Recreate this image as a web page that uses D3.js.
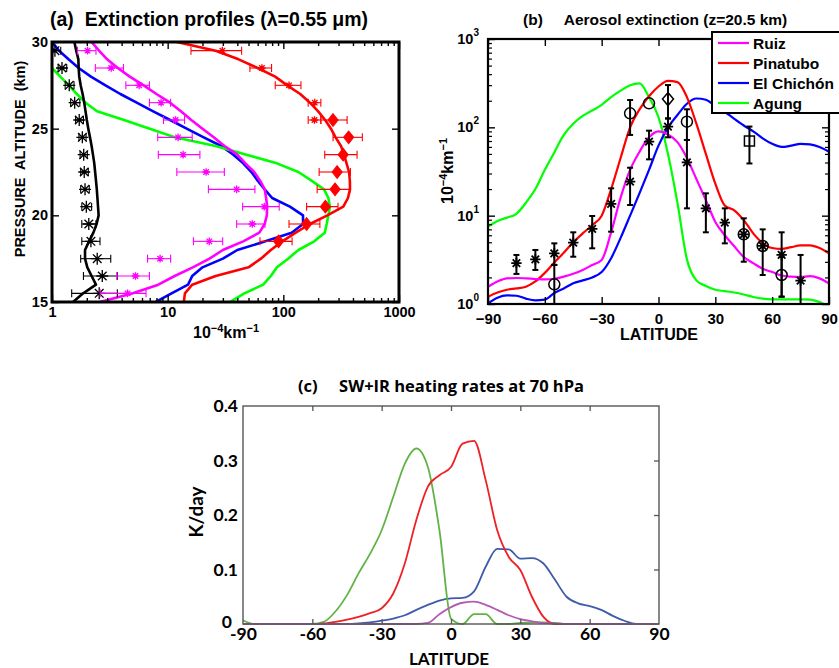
<!DOCTYPE html>
<html>
<head>
<meta charset="utf-8">
<script src="https://cdn.jsdelivr.net/npm/d3@7"></script>
<style>
  body { margin: 0; background: #fff; }
  svg { display: block; }
  text { white-space: pre; }
</style>
</head>
<body>
<svg id="fig" width="839" height="668"></svg>
<script>
// ---------------- Panel (a): extinction profiles, 15-30 km ----------------
const profileAlt = [15,15.5,16,16.5,17,17.5,18,18.5,19,19.5,20,20.5,21,21.5,22,22.5,23,23.5,24,24.5,25,25.5,26,26.5,27,27.5,28,28.5,29,29.5,30];
const profRuiz     = [2.6,5.0,8.3,11.5,16.5,23,30,45,62,69,72,72.5,71,69,63,56,47,40,31,25,20,16,13,10.5,8.0,6.2,4.7,3.7,3.0,2.55,2.2];
const profPinatubo = [13.8,14.1,16.3,26,50,64,78,98,128,170,240,330,362,377,376,370,352,335,315,283,258,230,200,170,140,108,85,60,41,26,12];
const profChichon  = [7.9,10.8,15,16.3,20,30,40,70,118,148,148,114,80,69,60,53,45,37,29,20.5,14.6,10.5,7.5,5.4,3.9,2.9,2.17,1.7,1.39,1.15,1.0];
const profAgung    = [34.5,46,67,78,88,110,135,185,228,237,245,253,245,225,175,135,88,48,26,11.5,7.0,4.2,2.45,1.95,1.64,1.4,1.18,1.0,0.8,null,null];
const profBlack    = [1.52,1.86,2.40,2.20,2.02,1.93,1.93,2.09,2.28,2.43,2.53,2.50,2.47,2.44,2.40,2.36,2.32,2.26,2.20,2.13,2.06,2.00,1.95,1.90,1.84,1.77,1.72,1.70,1.69,1.62,1.56];

// observed profiles with horizontal error bars
const obsAlt   = [15.5,16.5,17.5,18.5,19.5,20.5,21.5,22.5,23.5,24.5,25.5,26.5,27.5,28.5,29.5];
const blackObs = [2.56,2.72,2.46,2.17,2.08,1.98,1.93,1.90,1.88,1.83,1.72,1.57,1.41,1.22,1.06];
const blackLo  = [1.48,1.87,1.77,1.81,1.81,1.81,1.77,1.77,1.75,1.71,1.60,1.45,1.30,1.13,1.01];
const blackHi  = [3.67,3.67,3.22,2.60,2.40,2.20,2.10,2.06,2.02,1.97,1.87,1.74,1.55,1.34,1.19];
const ruizObs  = [4.5,5.27,8.6,22.9,53.9,68.4,39.5,21.5,13.6,12.3,11.7,8.77,5.67,3.25,2.03];
const ruizLo   = [2.61,3.64,6.7,16.7,39.5,44.5,22.5,12.0,8.3,8.2,9.2,6.96,4.35,2.37,1.66];
const ruizHi   = [6.5,6.96,10.6,29.9,69.3,92.1,56.8,30.9,19.0,16.3,14.0,10.6,6.96,4.15,2.40];
const pinStarAlt = [25.5,26.5,27.5,28.5,29.5];
const pinStar    = [186,187,112,65.3,29.7];
const pinStarLo  = [164,164,85.1,51.4,15.9];
const pinStarHi  = [211,211,142,79.1,43.6];
const pinDiaAlt  = [18.5,19.5,20.5,21.5,22.5,23.5,24.5,25.5];
const pinDia     = [91,159,231,280,292,329,367,269];
const pinDiaLo   = [62.8,112,159,196,204,228,269,211];
const pinDiaHi   = [119,207,297,375,380,434,482,356];

// ---------------- Panel (b): extinction at 20.5 km vs latitude ----------------
const latitudes = [-90,-85,-80,-75,-70,-65,-60,-55,-50,-45,-40,-35,-30,-25,-20,-15,-10,-5,0,5,10,15,20,25,30,35,40,45,50,55,60,65,70,75,80,85,90];
const extRuiz     = [1.57,1.80,1.95,1.97,1.95,1.92,1.90,1.93,2.04,2.2,2.43,2.76,3.15,6.5,16,33,53,77,90,83,68,45,26,15,8.5,6.0,4.5,3.4,2.9,2.5,2.3,2.1,2.04,2.02,2.07,1.95,1.71];
const extPinatubo = [1.21,1.35,1.45,1.50,1.57,1.80,2.25,2.95,3.8,5.0,6.3,7.8,10,20,45,100,160,225,290,335,325,220,110,50,23,13,11.5,8.9,6.3,4.9,4.3,4.2,4.4,4.6,4.6,4.3,3.75];
const extChichon  = [1.02,1.18,1.25,1.24,1.15,1.10,1.12,1.33,1.5,1.72,1.85,2.0,2.3,3.3,5.6,10,18,33,62,100,138,185,212,205,175,150,125,105,90,75,65,60,62,65,64,60,53];
const extAgung    = [7.5,8.7,9.5,10.5,14,20,33,52,82,110,135,155,180,220,260,300,315,220,130,50,14,3.2,1.85,1.6,1.45,1.40,1.35,1.28,1.2,1.15,1.13,1.13,1.13,1.13,1.12,1.05,0.93];
const seriesNames = ["Ruiz","Pinatubo","El Chichón","Agung"];

// measurements at 20.5 km (vertical error bars)
const starLat = [-75,-65,-55,-45,-35,-25,-15,-5,5,15,25,35,45,55,65,75];
const starVal = [2.9,3.2,3.75,4.95,7.1,13.6,24.3,68.8,102,40.2,12.1,8.34,6.15,4.54,3.59,1.84];
const starLo  = [2.19,2.43,2.77,3.43,4.27,6.59,13.2,43.4,77.1,12.1,6.48,4.86,3.01,2.13,1.21,0.5];
const starHi  = [3.59,4.09,4.86,6.48,9.92,20.4,34.9,91.7,126,71.9,17.9,12.1,9.33,7.0,6.48,3.59];
const circLat = [-55,-15,-5,15,45,55,65];
const circVal = [1.67,144,187,116,6.15,4.54,2.13];
const circLo  = [0.5,82,187,72,6.15,4.54,1.21];
const circHi  = [2.77,204,187,160,6.15,4.54,3.43];
const diaLat = [5],  diaVal = [209], diaLo = [126], diaHi = [301];
const sqLat  = [48], sqVal  = [70],  sqLo  = [39],  sqHi  = [102];

// ---------------- Panel (c): SW+IR heating rates at 70 hPa ----------------
const heatAgung    = [.007,0,0,0,0,0,0,.004,.023,.053,.093,.129,.172,.233,.294,.322,.288,.172,.01,0,.018,.018,0,0,.002,.003,.003,.002,0,0,0,0,0,0,0,0,0];
const heatPinatubo = [0,0,0,0,0,0,0,.001,.004,.008,.013,.020,.029,.056,.111,.191,.252,.273,.288,.331,.336,.264,.172,.123,.099,.050,.013,0,0,0,0,0,0,0,0,0,0];
const heatChichon  = [0,0,0,0,0,0,0,0,0,0,.001,.003,.006,.010,.016,.026,.035,.043,.047,.048,.060,.105,.138,.137,.120,.121,.111,.081,.050,.038,.033,.026,.015,.006,0,0,0];
const heatRuiz     = [0,0,0,0,0,0,0,0,0,0,0,0,0,0,0,0,.002,.018,.031,.039,.041,.035,.026,.016,.009,.005,.002,.001,0,0,0,0,0,0,0,0,0];

const ticksA = [1,10,100,1000];
const ticksAlt = [15,20,25,30];
const ticksLat = [-90,-60,-30,0,30,60,90];
const ticksHeat = [0,0.1,0.2,0.3,0.4];

// ------------------------------------------------------------------
const svg = d3.select("#fig");
const defs = svg.append("defs");
const fontH = "'Liberation Sans', Arial, Helvetica, sans-serif";
const fontC = "Lato, 'Open Sans', sans-serif";

function clipRect(id, x0, y0, x1, y1) {
  defs.append("clipPath").attr("id", id).append("rect")
    .attr("x", x0).attr("y", y0).attr("width", x1 - x0).attr("height", y1 - y0);
}
function asterisk(s) {
  const k = s * 0.72;
  return `M${-s},0H${s}M0,${-s}V${s}M${-k},${-k}L${k},${k}M${-k},${k}L${k},${-k}`;
}
function richText(sel, parts, supSize, shift) {
  let up = false;
  parts.forEach(([t, sup]) => {
    const ts = sel.append("tspan").text(t);
    if (sup) ts.attr("font-size", supSize);
    if (sup && !up) ts.attr("dy", -shift);
    if (!sup && up) ts.attr("dy", shift);
    up = sup;
  });
}
function minorLog(lo, hi) {
  const out = [];
  for (let d = lo; d < hi; d *= 10) for (let m = 2; m <= 9; m++) out.push(d * m);
  return out;
}
function styleAxis(g, font, size, color, sw) {
  g.select(".domain").remove();
  g.selectAll(".tick line").attr("stroke", color).attr("stroke-width", sw);
  g.selectAll("text").attr("font-family", font).attr("font-size", size)
    .attr("font-weight", "bold").attr("fill", "#000");
}

// ======================= Panel (a) =======================
const xA = d3.scaleLog().domain([1, 1000]).range([52, 399]);
const yA = d3.scaleLinear().domain([15, 30]).range([302, 42]);
clipRect("clipA", 52, 42, 399, 302);
const gA = svg.append("g");
const plotA = gA.append("g").attr("clip-path", "url(#clipA)");

const lineA = d3.line()
  .defined(d => d.v != null)
  .x(d => xA(d.v)).y(d => yA(d.alt));
[[profChichon, "#0000ff"], [profAgung, "#00ff00"], [profPinatubo, "#ff0000"],
 [profRuiz, "#ff00ff"], [profBlack, "#000000"]].forEach(([vals, col]) => {
  plotA.append("path")
    .datum(profileAlt.map((a, i) => ({ alt: a, v: vals[i] })))
    .attr("d", lineA).attr("fill", "none").attr("stroke", col)
    .attr("stroke-width", 2.6).attr("stroke-linejoin", "round");
});

function hBars(g, alt, v, lo, hi, col, kind, size, sw) {
  const pts = alt.map((a, i) => ({ a, v: v[i], lo: lo[i], hi: hi[i] }));
  const grp = g.append("g").attr("stroke", col).attr("stroke-width", sw).attr("fill", "none");
  pts.forEach(p => {
    const y = yA(p.a);
    grp.append("line").attr("x1", xA(p.lo)).attr("x2", xA(p.hi)).attr("y1", y).attr("y2", y);
    grp.append("line").attr("x1", xA(p.lo)).attr("x2", xA(p.lo)).attr("y1", y - 4).attr("y2", y + 4);
    grp.append("line").attr("x1", xA(p.hi)).attr("x2", xA(p.hi)).attr("y1", y - 4).attr("y2", y + 4);
    if (kind === "star") {
      grp.append("path").attr("d", asterisk(size)).attr("stroke-width", sw * 1.2)
        .attr("transform", `translate(${xA(p.v)},${y})`);
    } else {
      grp.append("path").attr("d", `M0,${-size * 1.25}L${size},0L0,${size * 1.25}L${-size},0Z`)
        .attr("fill", col).attr("transform", `translate(${xA(p.v)},${y})`);
    }
  });
}
hBars(plotA, obsAlt, blackObs, blackLo, blackHi, "#000", "star", 6, 1.1);
hBars(plotA, obsAlt, ruizObs, ruizLo, ruizHi, "#ff00ff", "star", 3.8, 1.1);
hBars(plotA, pinStarAlt, pinStar, pinStarLo, pinStarHi, "#ff0000", "star", 3.8, 1.1);
hBars(plotA, pinDiaAlt, pinDia, pinDiaLo, pinDiaHi, "#ff0000", "diamond", 5, 1.1);

// axes (inward ticks on every side)
const minA = minorLog(1, 1000);
[["axisBottom", 302, true], ["axisTop", 42, false]].forEach(([fn, y, lab]) => {
  const ax = gA.append("g").attr("transform", `translate(0,${y})`)
    .call(d3[fn](xA).tickValues(ticksA).tickFormat(lab ? d3.format("d") : "").tickSize(-7).tickPadding(5));
  styleAxis(ax, fontH, 14.5, "#000", 1.4);
  const mn = gA.append("g").attr("transform", `translate(0,${y})`)
    .call(d3[fn](xA).tickValues(minA).tickFormat("").tickSize(-4));
  styleAxis(mn, fontH, 14, "#000", 1.4);
});
[["axisLeft", 52, true], ["axisRight", 399, false]].forEach(([fn, x, lab]) => {
  const ax = gA.append("g").attr("transform", `translate(${x},0)`)
    .call(d3[fn](yA).tickValues(ticksAlt).tickFormat(lab ? d3.format("d") : "").tickSize(-7).tickPadding(4));
  styleAxis(ax, fontH, 14.5, "#000", 1.4);
});
gA.append("rect").attr("x", 52).attr("y", 42).attr("width", 347).attr("height", 260)
  .attr("fill", "none").attr("stroke", "#000").attr("stroke-width", 3);

gA.append("text").attr("x", 50).attr("y", 26)
  .attr("font-family", fontH).attr("font-size", 19.5).attr("font-weight", "bold")
  .text("(a)  Extinction profiles (λ=0.55 μm)");
gA.append("text").attr("transform", "translate(25,159) rotate(-90)")
  .attr("text-anchor", "middle").attr("font-family", fontH).attr("font-size", 14.5)
  .attr("font-weight", "bold").text("PRESSURE  ALTITUDE  (km)");
richText(gA.append("text").attr("x", 226).attr("y", 338).attr("text-anchor", "middle")
  .attr("font-family", fontH).attr("font-size", 16).attr("font-weight", "bold"),
  [["10", false], ["−4", true], ["km", false], ["−1", true]], 11, 6);

// ======================= Panel (b) =======================
const xB = d3.scaleLinear().domain([-90, 90]).range([488, 829]);
const yB = d3.scaleLog().domain([1, 1000]).range([304, 39]);
clipRect("clipB", 488, 39, 829, 304);
const gB = svg.append("g");
const plotB = gB.append("g").attr("clip-path", "url(#clipB)");
const lineB = d3.line().curve(d3.curveMonotoneX)
  .x(d => xB(d.lat)).y(d => yB(d.v));
const colorsB = ["#ff00ff", "#ff0000", "#0000ff", "#00ff00"];
const seriesB = [extRuiz, extPinatubo, extChichon, extAgung];
[3, 2, 1, 0].forEach(k => {
  plotB.append("path")
    .datum(latitudes.map((l, i) => ({ lat: l, v: seriesB[k][i] })))
    .attr("d", lineB).attr("fill", "none").attr("stroke", colorsB[k]).attr("stroke-width", 2.2);
});

function vBars(g, lat, v, lo, hi, kind) {
  const grp = g.append("g").attr("stroke", "#000").attr("fill", "none");
  lat.forEach((l, i) => {
    const x = xB(l);
    if (hi[i] > lo[i]) {
      grp.append("line").attr("x1", x).attr("x2", x).attr("y1", yB(lo[i])).attr("y2", yB(hi[i])).attr("stroke-width", 2);
      [lo[i], hi[i]].forEach(e => grp.append("line").attr("x1", x - 3).attr("x2", x + 3)
        .attr("y1", yB(e)).attr("y2", yB(e)).attr("stroke-width", 2));
    }
    const t = `translate(${x},${yB(v[i])})`;
    if (kind === "star") grp.append("path").attr("d", asterisk(5.2)).attr("transform", t).attr("stroke-width", 1.8);
    if (kind === "circle") grp.append("circle").attr("r", 5.5).attr("transform", t).attr("stroke-width", 1.5);
    if (kind === "diamond") grp.append("path").attr("d", "M0,-6.5L5.5,0L0,6.5L-5.5,0Z").attr("transform", t).attr("stroke-width", 1.5);
    if (kind === "square") grp.append("rect").attr("x", -5).attr("y", -5).attr("width", 10).attr("height", 10).attr("transform", t).attr("stroke-width", 1.5);
  });
}
vBars(plotB, circLat, circVal, circLo, circHi, "circle");
vBars(plotB, starLat, starVal, starLo, starHi, "star");
vBars(plotB, diaLat, diaVal, diaLo, diaHi, "diamond");
vBars(plotB, sqLat, sqVal, sqLo, sqHi, "square");

const latFmt = d => d < 0 ? "−" + Math.abs(d) : String(d);
[["axisBottom", 304, true], ["axisTop", 39, false]].forEach(([fn, y, lab]) => {
  const ax = gB.append("g").attr("transform", `translate(0,${y})`)
    .call(d3[fn](xB).tickValues(ticksLat).tickFormat(lab ? latFmt : "").tickSize(-7).tickPadding(9));
  styleAxis(ax, fontH, 15, "#000", 1.4);
});
const minB = minorLog(1, 1000);
[["axisLeft", 488], ["axisRight", 829]].forEach(([fn, x]) => {
  const ax = gB.append("g").attr("transform", `translate(${x},0)`)
    .call(d3[fn](yB).tickValues(ticksA).tickFormat("").tickSize(-7));
  styleAxis(ax, fontH, 14, "#000", 1.4);
  const mn = gB.append("g").attr("transform", `translate(${x},0)`)
    .call(d3[fn](yB).tickValues(minB).tickFormat("").tickSize(-4));
  styleAxis(mn, fontH, 14, "#000", 1.2);
});
ticksA.forEach(t => {
  const txt = gB.append("text").attr("x", 479).attr("y", yB(t) + 5).attr("text-anchor", "end")
    .attr("font-family", fontH).attr("font-size", 14.5).attr("font-weight", "bold");
  txt.append("tspan").text("10");
  txt.append("tspan").attr("font-size", 10).attr("dy", -8).text(String(Math.round(Math.log10(t))));
});
gB.append("rect").attr("x", 488).attr("y", 39).attr("width", 341).attr("height", 265)
  .attr("fill", "none").attr("stroke", "#000").attr("stroke-width", 2.2);

gB.append("text").attr("x", 523).attr("y", 25)
  .attr("font-family", fontH).attr("font-size", 15.5).attr("font-weight", "bold")
  .text("(b)     Aerosol extinction (z=20.5 km)");
gB.append("text").attr("x", 659).attr("y", 340).attr("text-anchor", "middle")
  .attr("font-family", fontH).attr("font-size", 16).attr("font-weight", "bold").text("LATITUDE");
richText(gB.append("text").attr("transform", "translate(453,171) rotate(-90)").attr("text-anchor", "middle")
  .attr("font-family", fontH).attr("font-size", 16).attr("font-weight", "bold"),
  [["10", false], ["−4", true], ["km", false], ["−1", true]], 11, 6);

// legend
const leg = gB.append("g");
leg.append("rect").attr("x", 712).attr("y", 32).attr("width", 140).attr("height", 81)
  .attr("fill", "#fff").attr("stroke", "#000").attr("stroke-width", 2);
seriesNames.forEach((n, i) => {
  const y = 43 + i * 20;
  leg.append("line").attr("x1", 718).attr("x2", 749).attr("y1", y).attr("y2", y)
    .attr("stroke", colorsB[i]).attr("stroke-width", 2.2);
  leg.append("text").attr("x", 753).attr("y", y + 6)
    .attr("font-family", fontH).attr("font-size", 15.5).attr("font-weight", "bold").text(n);
});

// ======================= Panel (c) =======================
const xC = d3.scaleLinear().domain([-90, 90]).range([243, 659]);
const yC = d3.scaleLinear().domain([0, 0.4]).range([624, 406]);
const gC = svg.append("g");
const lineC = d3.line().curve(d3.curveMonotoneX).x(d => xC(d.lat)).y(d => yC(d.v));
[[heatChichon, "#3e5ca9"], [heatAgung, "#62b346"], [heatPinatubo, "#ee1f25"], [heatRuiz, "#b45bb5"]]
  .forEach(([vals, col]) => {
    gC.append("path")
      .datum(latitudes.map((l, i) => ({ lat: l, v: vals[i] })))
      .attr("d", lineC).attr("fill", "none").attr("stroke", col).attr("stroke-width", 1.8);
  });

const inner = ticksLat.filter(t => t > -90 && t < 90);
const axCb = gC.append("g").attr("transform", "translate(0,624)")
  .call(d3.axisBottom(xC).tickValues(ticksLat).tickFormat(d => String(d)).tickSize(0).tickPadding(4));
styleAxis(axCb, fontC, 17.5, "#555", 1.3);
const axCb2 = gC.append("g").attr("transform", "translate(0,624)")
  .call(d3.axisBottom(xC).tickValues(inner).tickFormat("").tickSize(-5));
styleAxis(axCb2, fontC, 16, "#555", 1.3);
const axCt = gC.append("g").attr("transform", "translate(0,406)")
  .call(d3.axisTop(xC).tickValues(inner).tickFormat("").tickSize(-5));
styleAxis(axCt, fontC, 16, "#555", 1.3);
const axCl = gC.append("g").attr("transform", "translate(243,0)")
  .call(d3.axisLeft(yC).tickValues(ticksHeat).tickFormat(d => d === 0 ? "0" : d3.format(".1f")(d)).tickSize(0).tickPadding(5));
styleAxis(axCl, fontC, 17.5, "#555", 1.3);
axCl.selectAll(".tick").filter(d => d === 0).select("text").attr("x", -11).attr("dy", "0.2em");
const axCr = gC.append("g").attr("transform", "translate(659,0)")
  .call(d3.axisRight(yC).tickValues(ticksHeat.filter(t => t > 0 && t < 0.4)).tickFormat("").tickSize(-5));
styleAxis(axCr, fontC, 16, "#555", 1.3);
gC.append("rect").attr("x", 243).attr("y", 406).attr("width", 416).attr("height", 218)
  .attr("fill", "none").attr("stroke", "#555").attr("stroke-width", 1.4);

gC.append("text").attr("x", 298).attr("y", 392)
  .attr("font-family", "'Open Sans', Lato, sans-serif").attr("font-size", 16.5).attr("font-weight", "bold")
  .text("(c)     SW+IR heating rates at 70 hPa");
gC.append("text").attr("x", 449).attr("y", 665).attr("text-anchor", "middle")
  .attr("font-family", fontC).attr("font-size", 17).attr("font-weight", "bold").text("LATITUDE");
gC.append("text").attr("transform", "translate(203,512) rotate(-90)").attr("text-anchor", "middle")
  .attr("font-family", fontC).attr("font-size", 19).attr("font-weight", "bold").text("K/day");
</script>
</body>
</html>
